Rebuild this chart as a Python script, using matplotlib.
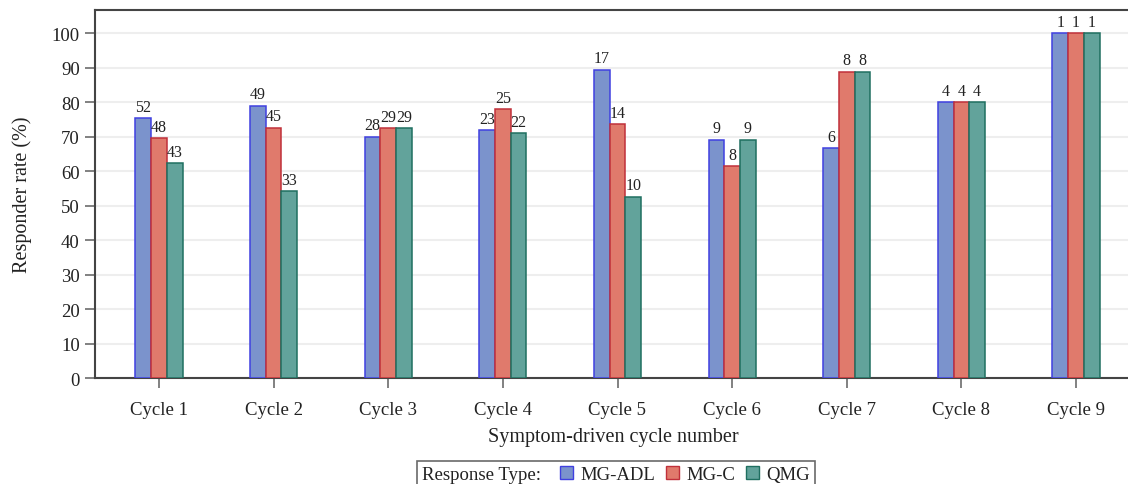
import matplotlib
matplotlib.use("Agg")
import matplotlib.pyplot as plt
import numpy as np
from matplotlib.patches import Patch

categories = ["Cycle 1", "Cycle 2", "Cycle 3", "Cycle 4", "Cycle 5",
              "Cycle 6", "Cycle 7", "Cycle 8", "Cycle 9"]
series_names = ["MG-ADL", "MG-C", "QMG"]
mg_adl = [75.4, 79.0, 70.0, 72.0, 89.5, 69.2, 66.7, 80.0, 100.0]
mg_c = [69.6, 72.6, 72.5, 78.1, 73.7, 61.5, 88.9, 80.0, 100.0]
qmg = [62.4, 54.2, 72.5, 71.0, 52.6, 69.2, 88.9, 80.0, 100.0]
n_adl = [52, 49, 28, 23, 17, 9, 6, 4, 1]
n_c = [48, 45, 29, 25, 14, 8, 8, 4, 1]
n_qmg = [43, 33, 29, 22, 10, 9, 8, 4, 1]
yticks = [0, 10, 20, 30, 40, 50, 60, 70, 80, 90, 100]

plt.rcParams['font.family'] = ['Liberation Serif', 'DejaVu Serif']
txt = "#222222"

fig = plt.figure(figsize=(11.28, 4.85), dpi=100)
ax = fig.add_axes([95/1128, 1-379.3/485, (1140-95)/1128, (379.3-11)/485])

fills = ["#7b93cc", "#e07a6c", "#62a39b"]
edges = ["#4040e0", "#c0303a", "#1f6f60"]
values = [mg_adl, mg_c, qmg]
counts = [n_adl, n_c, n_qmg]
x = np.arange(len(categories))
w = 0.137
for i in range(3):
    pos = x + (i - 1) * w
    ax.bar(pos, values[i], width=w, color=fills[i], edgecolor=edges[i],
           linewidth=1.1, zorder=3, label=series_names[i])
    for xb, v, n in zip(pos, values[i], counts[i]):
        ax.text(xb, v + 1.0, str(n), ha="center", va="bottom", fontsize=11.5,
                color=txt, zorder=4)

ax.set_xlim(-0.558, 8.558)
ax.set_ylim(0, 106.8)
ax.set_yticks(yticks)
ax.set_xticks(x)
ax.set_xticklabels(categories)
ax.yaxis.grid(True, color="#eeeeee", linewidth=1.5, zorder=0)
ax.set_axisbelow(True)
for s in ["left", "bottom", "top"]:
    ax.spines[s].set_color("#444444")
    ax.spines[s].set_linewidth(1.5)
ax.spines["right"].set_visible(False)
ax.tick_params(axis="both", direction="out", length=7, width=1.3, color="#777777",
               labelsize=13.5, labelcolor=txt, pad=4)
ax.tick_params(axis="x", pad=9)
ax.set_ylabel("Responder rate (%)", fontsize=14.5, color=txt, labelpad=14)
fig.text(613/1128, 1-438/485, "Symptom-driven cycle number", ha="center",
         va="center", fontsize=14.5, color=txt)

handles = [Patch(facecolor=fills[i], edgecolor=edges[i], linewidth=1.0)
           for i in range(3)]
leg = fig.legend(handles, series_names, loc="upper center",
                 bbox_to_anchor=(616/1128, 1-453/485), ncol=3, fontsize=13.5,
                 title="Response Type:", title_fontsize=13.5,
                 frameon=True, fancybox=False, edgecolor="#444444",
                 handlelength=0.7, handleheight=0.7, handletextpad=0.4,
                 columnspacing=0.55, borderpad=0.25)
leg.get_frame().set_linewidth(1.2)
try:
    from matplotlib.offsetbox import HPacker
    hp = HPacker(children=[leg._legend_title_box, leg._legend_handle_box],
                 align="center", pad=0, sep=14)
    leg._legend_box._children = [hp]
except Exception:
    pass
for t in leg.get_texts():
    t.set_color(txt)
leg.get_title().set_color(txt)

fig.savefig("out.png", dpi=100)
